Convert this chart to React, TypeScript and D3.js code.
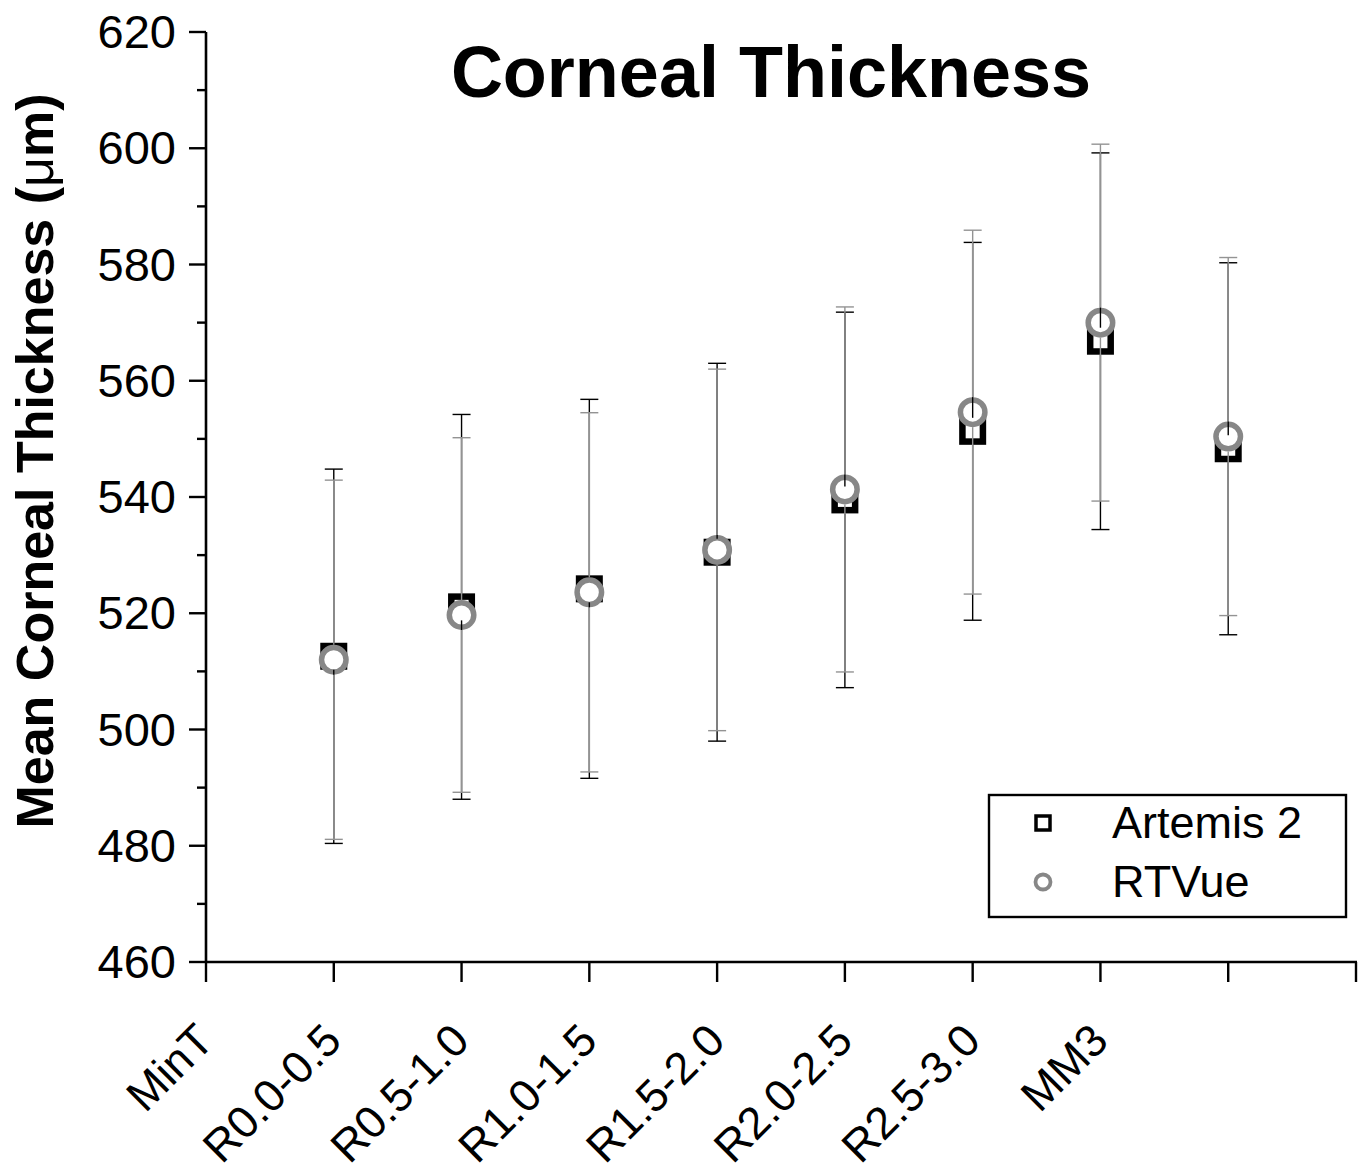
import React from "react";
import * as d3 from "d3";

// Mean corneal thickness per zone, with ±SD error bars, for two devices
const categories = ["MinT", "R0.0-0.5", "R0.5-1.0", "R1.0-1.5", "R1.5-2.0", "R2.0-2.5", "R2.5-3.0", "MM3"];
const artemisMean = [512.6, 521.1, 524.2, 530.5, 539.5, 551.3, 566.8, 548.3];
const artemisSD = [32.2, 33.1, 32.6, 32.5, 32.3, 32.5, 32.4, 32.0];
const rtvueMean = [512.0, 519.7, 523.6, 530.9, 541.3, 554.6, 570.0, 550.4];
const rtvueSD = [30.9, 30.5, 30.9, 31.1, 31.4, 31.3, 30.7, 30.8];
const yMajorTicks = [460, 480, 500, 520, 540, 560, 580, 600, 620];
const yMinorTicks = [470, 490, 510, 530, 550, 570, 590, 610];
const xTickCount = 9;
const seriesNames = ["Artemis 2", "RTVue"];

const W = 1368;
const H = 1175;
const FONT = "'Liberation Sans', Arial, Helvetica, sans-serif";
const GREY = "#878787";
const GREY_BAR = "#939393";

export default function App() {
  const x = d3.scaleLinear().domain([0, xTickCount]).range([206, 1356]);
  const y = d3.scaleLinear().domain([460, 620]).range([962, 32]);

  const sqHalf = 13.5; // outer half-size of the square marker
  const cR = 15; // outer radius of the circle marker
  const capHalf = 9;

  const errorBar = (cx: number, mean: number, sd: number, gap: number, color: string, key: string) => {
    const cy = y(mean);
    const top = y(mean + sd);
    const bot = y(mean - sd);
    return (
      <g key={key} stroke={color} strokeWidth={1.4} fill="none">
        <line x1={cx} x2={cx} y1={top} y2={cy - gap} />
        <line x1={cx} x2={cx} y1={cy + gap} y2={bot} />
        <line x1={cx - capHalf} x2={cx + capHalf} y1={top} y2={top} />
        <line x1={cx - capHalf} x2={cx + capHalf} y1={bot} y2={bot} />
      </g>
    );
  };

  return (
    <div style={{ position: "absolute", left: 0, top: 0 }}>
      <svg width={W} height={H} style={{ display: "block", background: "#fff" }}>
        <rect x={0} y={0} width={W} height={H} fill="#fff" />
        {/* title */}
        <text x={771} y={97} textAnchor="middle" fontFamily={FONT} fontWeight="bold" fontSize={72} fill="#000">
          Corneal Thickness
        </text>

        {/* y axis */}
        <line x1={206} x2={206} y1={y(620)} y2={y(460) + 1} stroke="#000" strokeWidth={2.6} />
        {yMajorTicks.map((t) => (
          <g key={"ym" + t}>
            <line x1={189} x2={206} y1={y(t)} y2={y(t)} stroke="#000" strokeWidth={2.4} />
            <text x={176} y={y(t) + 16} textAnchor="end" fontFamily={FONT} fontSize={47} fill="#000">
              {t}
            </text>
          </g>
        ))}
        {yMinorTicks.map((t) => (
          <line key={"yn" + t} x1={197} x2={206} y1={y(t)} y2={y(t)} stroke="#000" strokeWidth={2.4} />
        ))}
        <text
          transform={`translate(53, 461) rotate(-90)`}
          textAnchor="middle"
          fontFamily={FONT}
          fontWeight="bold"
          fontSize={52}
          fill="#000"
        >
          Mean Corneal Thickness (<tspan fontWeight="normal">μ</tspan>m)
        </text>

        {/* x axis */}
        <line x1={x(0) - 1} x2={x(xTickCount) + 1} y1={962} y2={962} stroke="#000" strokeWidth={2.6} />
        {d3.range(0, xTickCount + 1).map((i) => (
          <line key={"xt" + i} x1={x(i)} x2={x(i)} y1={962} y2={982} stroke="#000" strokeWidth={2.4} />
        ))}
        {categories.map((c, i) => (
          <text
            key={"xl" + c}
            transform={`translate(${x(i) + 10}, 1043) rotate(-45)`}
            textAnchor="end"
            fontFamily={FONT}
            fontSize={45}
            fill="#000"
          >
            {c}
          </text>
        ))}

        {/* markers */}
        {artemisMean.map((m, i) => (
          <rect
            key={"sq" + i}
            x={x(i + 1) - sqHalf + 3.25}
            y={y(m) - sqHalf + 3.25}
            width={2 * sqHalf - 6.5}
            height={2 * sqHalf - 6.5}
            fill="#fff"
            stroke="#000"
            strokeWidth={6.5}
          />
        ))}
        {rtvueMean.map((m, i) => (
          <circle key={"ci" + i} cx={x(i + 1)} cy={y(m)} r={cR - 2.75} fill="#fff" stroke={GREY} strokeWidth={5.5} />
        ))}

        {/* error bars */}
        {artemisMean.map((m, i) => errorBar(x(i + 1), m, artemisSD[i], sqHalf, "#000", "ea" + i))}
        {rtvueMean.map((m, i) => errorBar(x(i + 1), m, rtvueSD[i], cR, GREY_BAR, "er" + i))}

        {/* legend */}
        <rect x={989} y={795} width={357} height={122} fill="none" stroke="#000" strokeWidth={2.4} />
        <rect x={1036} y={816} width={14} height={14} fill="#fff" stroke="#000" strokeWidth={3.5} />
        <text x={1112} y={838} fontFamily={FONT} fontSize={45} fill="#000">
          {seriesNames[0]}
        </text>
        <circle cx={1043} cy={882} r={7.5} fill="#fff" stroke={GREY} strokeWidth={3.8} />
        <text x={1112} y={897} fontFamily={FONT} fontSize={45} fill="#000">
          {seriesNames[1]}
        </text>
      </svg>
    </div>
  );
}
